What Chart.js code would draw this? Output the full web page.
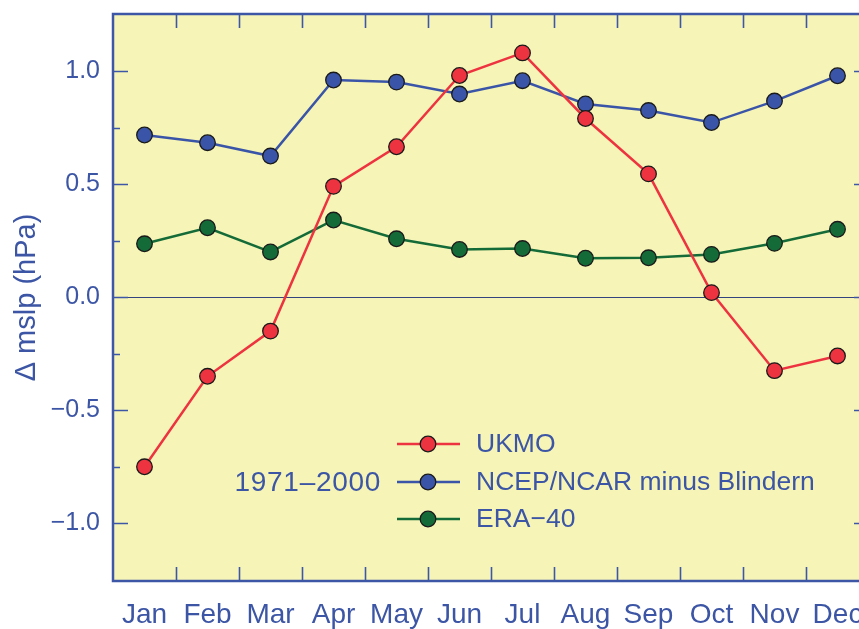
<!DOCTYPE html>
<html>
<head>
<meta charset="utf-8">
<script src="https://cdn.jsdelivr.net/npm/chart.js@4/dist/chart.umd.min.js"></script>
<style>
  html, body { margin: 0; padding: 0; background: #ffffff; overflow: hidden; }
  #wrap { width: 859px; height: 629px; overflow: hidden; }
  canvas { display: block; }
</style>
</head>
<body>
<div id="wrap"><canvas id="c" width="880" height="629"></canvas></div>
<script>
// ---- data ----
const months = ["Jan","Feb","Mar","Apr","May","Jun","Jul","Aug","Sep","Oct","Nov","Dec"];
const seriesNames = ["UKMO", "NCEP/NCAR minus Blindern", "ERA\u221240"];
const ukmo = [-0.75, -0.35, -0.15, 0.49, 0.665, 0.98, 1.08, 0.79, 0.545, 0.02, -0.325, -0.26];
const ncep = [0.717, 0.683, 0.624, 0.96, 0.951, 0.898, 0.957, 0.854, 0.825, 0.772, 0.867, 0.979];
const era40 = [0.236, 0.307, 0.200, 0.341, 0.258, 0.211, 0.215, 0.172, 0.174, 0.189, 0.238, 0.300];
const yTickValues = [-1.0, -0.75, -0.5, -0.25, 0.0, 0.25, 0.5, 0.75, 1.0];
const yLabelValues = [-1.0, -0.5, 0.0, 0.5, 1.0];
const periodLabel = "1971\u20132000";
const yTitle = "\u0394 mslp (hPa)";

// ---- styles ----
const AXIS = "#3D57A6";
const TEXT = "#3C56A5";
const BG = "#F6F4B6";
const colors = ["#EE3340", "#3A55A8", "#156B38"];
const FONT = "'Liberation Sans', Arial, Helvetica, sans-serif";

function fmt(v) {
  const s = Math.abs(v).toFixed(1);
  return v < 0 ? "\u2212" + s : s;
}

const framePlugin = {
  id: "frame",
  beforeDatasetsDraw(chart) {
    const {ctx, chartArea: a, scales: {x, y}} = chart;
    ctx.save();
    ctx.fillStyle = BG;
    ctx.fillRect(a.left, a.top, a.right - a.left, a.bottom - a.top);
    // zero line
    const y0 = Math.round(y.getPixelForValue(0)) + 0.5;
    ctx.strokeStyle = "#33437E";
    ctx.lineWidth = 1;
    ctx.beginPath();
    ctx.moveTo(a.left, y0);
    ctx.lineTo(a.right, y0);
    ctx.stroke();
    ctx.restore();
  },
  afterDatasetsDraw(chart) {
    const {ctx, chartArea: a, scales: {x, y}} = chart;
    ctx.save();
    ctx.strokeStyle = AXIS;
    ctx.lineWidth = 1.6;
    // x ticks at category boundaries, inward top and bottom
    for (let i = 1; i < months.length; i++) {
      const px = Math.round((x.getPixelForValue(i - 1) + x.getPixelForValue(i)) / 2) + 0.5;
      ctx.beginPath();
      ctx.moveTo(px, a.bottom); ctx.lineTo(px, a.bottom - 14);
      ctx.moveTo(px, a.top); ctx.lineTo(px, a.top + 14);
      ctx.stroke();
    }
    // y ticks inward left and right
    yTickValues.forEach(v => {
      const py = Math.round(y.getPixelForValue(v)) + 0.5;
      const len = yLabelValues.includes(v) ? 15 : 7;
      ctx.beginPath();
      ctx.moveTo(a.left, py); ctx.lineTo(a.left + len, py);
      ctx.moveTo(a.right, py); ctx.lineTo(a.right - len, py);
      ctx.stroke();
    });
    // frame
    ctx.lineWidth = 2.5;
    ctx.strokeRect(a.left, a.top, a.right - a.left, a.bottom - a.top);

    // legend
    const rows = [444, 482, 519];
    const lx0 = 397, lx1 = 460, mx = 428, tx = 476;
    ctx.font = "26.5px " + FONT;
    ctx.textBaseline = "middle";
    chart.data.datasets.forEach((ds, i) => {
      const ry = rows[i];
      ctx.strokeStyle = ds.borderColor;
      ctx.lineWidth = 2.5;
      ctx.beginPath(); ctx.moveTo(lx0, ry); ctx.lineTo(lx1, ry); ctx.stroke();
      ctx.beginPath();
      ctx.arc(mx, ry, 7.8, 0, Math.PI * 2);
      ctx.fillStyle = ds.pointBackgroundColor;
      ctx.fill();
      ctx.lineWidth = 1.3;
      ctx.strokeStyle = "#1a1a1a";
      ctx.stroke();
      ctx.fillStyle = TEXT;
      ctx.textAlign = "left";
      ctx.fillText(ds.label, tx, ry + 1);
    });
    ctx.textAlign = "right";
    ctx.fillStyle = TEXT;
    ctx.font = "28px " + FONT;
    ctx.letterSpacing = "0.7px";
    ctx.fillText(periodLabel, 381, rows[1] + 1);
    ctx.restore();
  }
};

const seriesData = [ukmo, ncep, era40];
const datasets = seriesData.map((d, i) => ({
  label: seriesNames[i],
  data: d,
  borderColor: colors[i],
  backgroundColor: colors[i],
  pointBackgroundColor: colors[i],
  pointBorderColor: "#1a1a1a",
  pointBorderWidth: 1.3,
  pointRadius: 7.8,
  borderWidth: 2.5,
  tension: 0,
  fill: false,
  clip: false
}));

new Chart(document.getElementById("c"), {
  type: "line",
  data: { labels: months, datasets },
  options: {
    responsive: false,
    animation: false,
    devicePixelRatio: 1,
    layout: { padding: { top: 14, right: 11, left: 0, bottom: 0 } },
    plugins: { legend: { display: false }, tooltip: { enabled: false } },
    scales: {
      x: {
        type: "category",
        offset: true,
        grid: { display: false, drawTicks: false, offset: true },
        border: { display: false },
        ticks: { color: TEXT, font: { size: 28, family: FONT }, padding: 17, maxRotation: 0, autoSkip: false },
        afterFit(s) { s.height = 48; s.paddingLeft = 0; s.paddingRight = 0; }
      },
      y: {
        type: "linear",
        min: -1.255,
        max: 1.252,
        grid: { display: false, drawTicks: false },
        border: { display: false },
        afterBuildTicks(s) { s.ticks = yTickValues.map(v => ({ value: v })); },
        ticks: {
          color: TEXT,
          font: { size: 25, family: FONT },
          padding: 13,
          autoSkip: false,
          callback: v => (yLabelValues.includes(v) ? fmt(v) : "")
        },
        title: {
          display: true,
          text: yTitle,
          color: TEXT,
          font: { size: 29, family: FONT },
          padding: { top: 10, bottom: 0 }
        },
        afterFit(s) { s.width = 113; s.paddingTop = 0; s.paddingBottom = 0; }
      }
    }
  },
  plugins: [framePlugin]
});
</script>
</body>
</html>
